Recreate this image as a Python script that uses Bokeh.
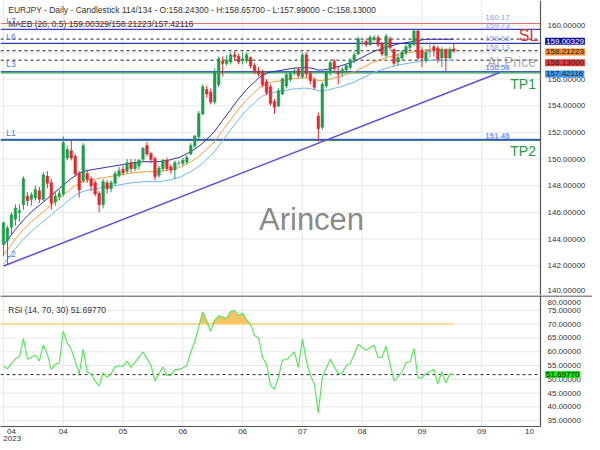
from bokeh.plotting import figure
from bokeh.models import Range1d, Label, ColumnDataSource
from bokeh.core.properties import value
from bokeh.layouts import column
from bokeh.embed import file_html
from bokeh.resources import INLINE

opens = [143.6,143.9,144.9,145.5,146.0,146.6,147.2,147.0,147.1,147.6,147.0,148.7,148.2,146.8,147.2,147.4,150.1,150.6,150.2,148.9,
         148.4,148.9,148.5,148.2,147.4,146.6,148.2,147.8,148.2,148.8,149.2,149.1,149.7,149.3,149.5,150.0,151.0,150.4,150.0,148.8,
         149.3,149.9,149.4,149.2,149.7,149.7,149.8,150.4,151.0,151.7,153.4,155.2,155.0,154.3,155.6,157.3,157.2,157.3,157.8,157.7,
         157.4,157.4,157.6,157.0,156.6,156.5,155.8,155.4,154.3,154.0,154.9,155.5,156.0,156.5,156.7,156.2,157.8,156.4,155.9,153.2,
         152.4,155.5,156.5,157.3,156.5,156.5,156.7,156.9,157.4,157.9,158.8,158.8,158.6,159.0,159.1,158.6,157.8,159.0,158.2,157.3,
         157.6,158.0,158.4,158.6,159.6,158.1,157.4,158.1,158.4,158.3,157.6,158.2,157.6,158.243]
highs = [145.3,145.0,146.0,146.6,146.6,148.7,147.5,147.5,148.0,147.9,149.0,149.1,148.5,147.6,147.7,151.7,151.0,151.5,150.4,149.1,
         151.2,149.2,148.7,148.4,147.6,148.5,148.4,148.4,149.1,149.4,149.5,150.0,150.0,150.0,150.0,150.9,151.3,150.5,150.2,149.5,
         150.0,150.1,149.6,149.9,149.9,150.1,150.3,151.2,151.8,153.6,155.6,155.5,155.3,156.8,157.7,157.7,157.8,158.0,158.1,157.9,
         158.0,158.0,157.7,157.2,156.9,156.7,156.0,155.6,154.5,155.3,156.1,156.5,156.6,156.8,156.9,158.0,158.0,156.6,156.1,153.5,
         155.8,156.7,157.4,157.5,157.0,156.9,157.1,157.6,158.0,159.2,159.1,159.0,159.3,159.3,159.3,158.8,159.4,159.2,158.3,157.9,
         158.2,158.6,158.8,159.8,159.7,158.4,158.2,158.8,158.6,158.5,158.4,158.3,158.4,158.657]
lows = [142.7,142.1,144.3,145.0,145.3,146.2,146.5,146.5,146.9,146.7,146.8,147.8,146.2,146.5,146.9,147.2,149.9,149.9,148.7,147.1,
        148.2,148.2,147.6,147.2,146.0,146.3,147.4,147.5,148.0,148.6,148.8,148.9,149.0,149.1,149.2,149.8,150.2,149.7,148.4,148.6,
        149.1,149.1,148.9,148.5,149.5,149.5,149.6,150.3,150.8,151.5,153.3,154.6,154.1,154.1,155.4,156.2,157.0,157.1,157.4,157.1,
        157.1,157.2,156.8,156.4,156.2,155.4,154.8,154.0,153.4,153.9,154.8,155.3,155.8,156.3,156.1,156.0,156.1,155.6,155.2,151.3,
        152.2,155.3,156.3,156.5,155.6,156.2,156.5,156.7,157.2,157.8,158.5,158.4,158.5,158.8,158.4,157.7,157.6,158.2,157.0,157.0,
        157.4,157.8,158.2,158.5,157.4,156.9,157.2,157.6,157.7,157.2,156.9,156.6,157.5,157.99]
closes = [145.2,144.8,145.8,146.3,146.1,148.5,146.9,147.3,147.7,147.0,148.8,148.2,146.7,147.2,147.4,151.2,150.7,150.1,148.9,147.7,
          151.0,148.5,148.0,147.4,146.6,148.3,147.8,148.2,148.9,149.1,149.0,149.7,149.3,149.7,149.9,150.8,150.4,150.0,148.7,149.3,
          149.9,149.3,149.2,149.7,149.7,149.9,150.1,151.0,151.7,153.4,155.4,154.9,154.3,156.5,157.5,157.2,157.4,157.8,157.7,157.3,
          157.5,157.8,157.0,156.6,156.4,155.6,155.0,154.2,153.9,155.1,156.0,156.3,156.4,156.6,156.3,157.8,156.4,155.9,155.4,152.3,
          155.6,156.5,157.2,156.8,156.4,156.7,157.0,157.4,157.8,159.0,158.8,158.6,159.1,159.1,158.6,157.9,159.2,158.4,157.2,157.6,
          158.0,158.4,158.6,159.6,157.6,157.6,158.0,158.1,158.2,157.5,158.2,157.6,158.2,158.13]
ma_mid = [142.85,143.2,143.6,144.0,144.35,144.7,145.0,145.3,145.55,145.8,146.05,146.3,146.55,146.8,147.05,147.3,147.55,147.8,148.0,148.2,
          148.3,148.4,148.45,148.5,148.55,148.6,148.65,148.7,148.75,148.8,148.85,148.9,148.95,149.0,149.0,149.05,149.05,149.05,149.05,149.05,
          149.1,149.15,149.2,149.3,149.35,149.5,149.65,149.8,150.0,150.2,150.45,150.75,151.0,151.35,151.75,152.15,152.55,152.95,153.35,153.75,
          154.1,154.45,154.75,155.0,155.3,155.5,155.65,155.75,155.8,155.85,155.9,155.95,156.0,156.05,156.05,156.1,156.1,156.05,156.0,155.9,
          155.9,155.95,156.0,156.1,156.15,156.25,156.35,156.45,156.55,156.7,156.85,157.0,157.15,157.3,157.4,157.5,157.6,157.7,157.75,157.85,
          157.9,157.95,158.0,158.05,158.1,158.15,158.2,158.2,158.2,158.2,158.2,158.2,158.2,158.21223]
ma_upper = [143.56,143.92,144.32,144.72,145.07,145.42,145.73,146.03,146.28,146.53,146.78,147.03,147.28,147.53,147.79,148.04,148.29,148.54,148.74,148.94,
            149.04,149.14,149.19,149.24,149.29,149.34,149.39,149.44,149.49,149.54,149.59,149.64,149.69,149.75,149.75,149.80,149.80,149.80,149.80,149.80,
            149.85,149.90,149.95,150.05,150.10,150.25,150.40,150.55,150.75,150.95,151.20,151.50,151.76,152.11,152.51,152.91,153.31,153.71,154.12,154.52,
            154.87,155.22,155.52,155.78,156.08,156.28,156.43,156.53,156.58,156.63,156.68,156.73,156.78,156.83,156.83,156.88,156.88,156.83,156.78,156.68,
            156.68,156.73,156.78,156.88,156.93,157.03,157.13,157.23,157.33,157.48,157.63,157.79,157.94,158.09,158.19,158.29,158.39,158.49,158.54,158.64,
            158.69,158.74,158.79,158.84,158.89,158.94,158.99,158.99,158.99,158.99,158.99,158.99,158.99,159.00329]
ma_lower = [142.14,142.48,142.88,143.28,143.63,143.98,144.28,144.57,144.82,145.07,145.32,145.57,145.82,146.07,146.32,146.56,146.81,147.06,147.26,147.46,
            147.56,147.66,147.71,147.76,147.81,147.86,147.91,147.96,148.01,148.06,148.11,148.16,148.21,148.26,148.26,148.30,148.30,148.30,148.30,148.30,
            148.35,148.40,148.45,148.55,148.60,148.75,148.90,149.05,149.25,149.45,149.70,150.00,150.25,150.59,150.99,151.39,151.79,152.19,152.58,152.98,
            153.33,153.68,153.98,154.23,154.52,154.72,154.87,154.97,155.02,155.07,155.12,155.17,155.22,155.27,155.27,155.32,155.32,155.27,155.22,155.12,
            155.12,155.17,155.22,155.32,155.37,155.47,155.57,155.67,155.77,155.92,156.07,156.22,156.36,156.51,156.61,156.71,156.81,156.91,156.96,157.06,
            157.11,157.16,157.21,157.26,157.31,157.36,157.41,157.41,157.41,157.41,157.41,157.41,157.41,157.42116]
rsi = [54.7,53.8,55.8,57.5,58.2,64.7,57.3,58.0,58.7,56.7,62.4,59.1,53.5,55.5,55.8,67.4,63.2,60.9,56.5,52.0,
       60.9,52.6,51.9,49.3,47.6,52.3,50.7,51.9,54.5,54.9,54.7,56.6,54.3,56.1,58.0,59.9,57.5,55.0,49.4,52.0,
       54.5,51.4,51.4,53.5,53.5,54.2,54.9,59.9,63.6,69.0,74.5,71.0,67.4,71.3,73.0,72.5,72.1,74.5,74.9,73.0,
       73.9,71.5,69.8,65.9,65.0,57.9,55.5,47.8,46.4,50.8,57.0,57.1,58.5,59.9,54.3,64.7,56.7,51.4,48.4,37.8,
       50.8,54.0,57.3,54.6,52.0,52.3,54.9,55.8,59.0,62.7,61.5,60.5,61.5,62.3,57.9,57.9,62.1,55.5,49.3,51.0,
       52.6,56.1,56.3,61.1,50.5,50.5,52.0,52.8,53.5,48.4,52.8,48.7,52.0,51.6977]

tick_pos = [2, 15, 30, 45, 60, 75, 90, 105, 120, 132]
tick_labels = ["04", "04", "05", "06", "06", "07", "08", "09", "09", "10"]
grid_pos = [0, 15, 30, 45, 60, 75, 90, 105, 120]
price_ticks = [140, 142, 144, 146, 148, 150, 152, 154, 156, 158, 160]
rsi_ticks = [35, 40, 45, 50, 55, 60, 65, 70, 75, 80]

level_values = [160.17, 159.73, 158.68, 151.40, 151.50, 151.45, 156.47, 156.56]
level_colors = ["#e06a6a", "#3a3fd0", "#2b3aa8", "#2aa845", "#9db8f0", "#3556b8", "#2aa845", "#3a63c8"]
level_widths = [1, 1.2, 1.2, 1, 1, 1.6, 1.3, 1.4]
dashed_values = [159.00329, 158.13, 157.42116]
trend_x = [0, 124.5]
trend_y = [141.97, 156.5]

FONT = "Liberation Sans"
X0 = -0.75
XAX = 134.75                       # right axis line position (bars)
XEND = X0 + 135.5 * 592 / 540      # canvas right edge
n = len(closes)
idx = list(range(n))
GRID = "#e8e8e8"
AXC = "#555555"

up_col, dn_col, flat_col = "#1f9d4c", "#e2282e", "#8a8a8a"
cols = []
for o, c in zip(opens, closes):
    if c - o > 0.06:
        cols.append(up_col)
    elif o - c > 0.06:
        cols.append(dn_col)
    else:
        cols.append(flat_col)
src = ColumnDataSource(dict(x=idx, o=opens, h=highs, l=lows, c=closes,
                            top=[max(a, b) + 0.02 for a, b in zip(opens, closes)],
                            bot=[min(a, b) - 0.02 for a, b in zip(opens, closes)],
                            col=cols, mid=ma_mid, up=ma_upper, lo=ma_lower))


def hsegs(fig, ys, x0, x1, color, width=1, dash="solid"):
    fig.segment(x0=[x0] * len(ys), y0=ys, x1=[x1] * len(ys), y1=ys,
                line_color=color, line_width=width, line_dash=dash)


def vsegs(fig, xs, y0, y1, color, width=1):
    fig.segment(x0=xs, y0=[y0] * len(xs), x1=xs, y1=[y1] * len(xs),
                line_color=color, line_width=width)


def txt(fig, xs, ys, texts, size, color, align="left", baseline="middle", xoff=0, alpha=1.0):
    fig.text(x=xs, y=ys, text=texts, text_font=value(FONT), text_font_size=value(size),
             text_color=color, text_align=align, text_baseline=baseline, x_offset=xoff,
             text_alpha=alpha)


def box(fig, x, y, text, bg, fg):
    fig.add_layout(Label(x=x, y=y, text=text, text_font=FONT, text_font_size="8px",
                         text_color=fg, text_baseline="middle", background_fill_color=bg,
                         padding=1))


# ---------------- main price panel ----------------
PY0, PY1 = 139.76, 161.9
p = figure(width=592, height=295, x_range=Range1d(X0, XEND), y_range=Range1d(PY0, PY1),
           x_axis_location=None, y_axis_location=None, output_backend="svg",
           toolbar_location=None, min_border=0)
p.outline_line_color = None
p.xgrid.visible = False
p.ygrid.visible = False
vsegs(p, grid_pos, PY0, PY1, GRID)
hsegs(p, price_ticks, X0, XAX, GRID)

for v, c, w in zip(level_values, level_colors, level_widths):
    hsegs(p, [v], X0, XAX, c, w)
hsegs(p, dashed_values, X0, XAX, "#222222", 1, "3 3")

p.line(trend_x, trend_y, line_color="#5a4fe0", line_width=1.5)

p.line("x", "up", source=src, line_color="#2c2ca8", line_width=1)
p.line("x", "mid", source=src, line_color="#f59a3c", line_width=1)
p.line("x", "lo", source=src, line_color="#6cb8ec", line_width=1)

p.segment("x", "h", "x", "l", source=src, line_color="col", line_width=1)
p.vbar(x="x", top="top", bottom="bot", width=0.65, source=src, fill_color="col",
       line_color="col", line_width=0.5)

# right axis
vsegs(p, [XAX], PY0, PY1, AXC, 1.2)
txt(p, [XAX] * len(price_ticks), [t + (0.12 if t == 140 else 0) for t in price_ticks],
    ["%.5f" % t for t in price_ticks], "8px", "#333333", xoff=7)

txt(p, [1.2], [161.16], ["EURJPY - Daily - Candlestick   114/134 - O:158.24300 - H:158.65700 - L:157.99000 - C:158.13000"],
    "8.5px", "#333333")
txt(p, [1.2], [160.1], ["MAEB (20, 0.5)   159.00329/158.21223/157.42116"], "8.5px", "#333333")
txt(p, [0.7] * 5, [160.33, 159.19, 157.1, 151.93, 142.86], ["L7", "L6", "L3", "L1", "L2"], "8.5px", "#5a78d0")
txt(p, [120.9] * 8, [160.64, 160.05, 159.02, 158.35, 156.88, 156.86, 151.75, 151.73],
    ["160.17", "159.73", "158.68", "158.13", "156.56", "156.54", "151.45", "151.46"], "8px", "#6f8ff0", alpha=0.9)
txt(p, [134.2], [159.25], ["SL"], "16px", "#e03030", align="right")
txt(p, [133.6], [157.25], ["At Price"], "14px", "#999999", align="right", alpha=0.85)
txt(p, [133.6], [155.65], ["TP1"], "14px", "#1f9d3c", align="right")
txt(p, [133.6], [150.6], ["TP2"], "14px", "#1f9d3c", align="right")
txt(p, [77.3], [145.5], ["Arincen"], "31px", "#7a7a7a", align="center", alpha=0.9)

for t, y, bg, fg in [("159.00329", 158.85, "#12129a", "white"),
                     ("158.21223", 158.04, "#f5892a", "#222222"),
                     ("158.13000", 157.23, "#e83a3a", "#222222"),
                     ("157.42116", 156.39, "#3b9af0", "#222222")]:
    box(p, 135.9, y, t, bg, fg)

# ---------------- RSI panel ----------------
RB, RT = 32.9, 80.0
UPX = (RT - RB) / 130.0
RY0 = RB - 16 * UPX
RY1 = RT + 1 * UPX
r = figure(width=592, height=147, x_range=p.x_range, y_range=Range1d(RY0, RY1),
           x_axis_location=None, y_axis_location=None, output_backend="svg",
           toolbar_location=None, min_border=0)
r.outline_line_color = None
r.xgrid.visible = False
r.ygrid.visible = False
vsegs(r, grid_pos, RB, RT, GRID)
hsegs(r, rsi_ticks, X0, XAX, GRID)

rs = ColumnDataSource(dict(x=idx, rsi=rsi, top=[max(v, 70) for v in rsi], base=[70] * n))
r.varea(x="x", y1="base", y2="top", source=rs, fill_color="#f9b947", fill_alpha=0.85)
r.segment(x0=[X0], y0=[70], x1=[idx[-1]], y1=[70], line_color="#ffd27a", line_width=1.5)
hsegs(r, [rsi[-1]], X0, XAX, "#222222", 1, "3 3")
r.line("x", "rsi", source=rs, line_color="#5ee35e", line_width=1.2)

hsegs(r, [RT + 0.5 * UPX], X0, XEND, "#666666", 1.3)
hsegs(r, [RB], X0, XAX, AXC, 1.2)
vsegs(r, [XAX], RB, RY1, AXC, 1.2)

rsi_lab_y = [t if t != 80 else 77.9 for t in rsi_ticks]
txt(r, [XAX] * len(rsi_ticks), rsi_lab_y, ["%.5f" % t for t in rsi_ticks], "8px", "#333333", xoff=7)
txt(r, tick_pos, [RB - 5 * UPX] * len(tick_pos), tick_labels, "8px", "#333333", align="center")
txt(r, [2.2], [RB - 11.5 * UPX], ["2023"], "8px", "#333333", align="center")
txt(r, [1.2], [75.2], ["RSI (14, 70, 30)   51.69770"], "8.5px", "#333333")
box(r, 135.9, rsi[-1], "51.69770", "#1ee01e", "#111111")

layout = column(p, r, spacing=0)
open("out.html", "w").write(file_html(layout, INLINE))
